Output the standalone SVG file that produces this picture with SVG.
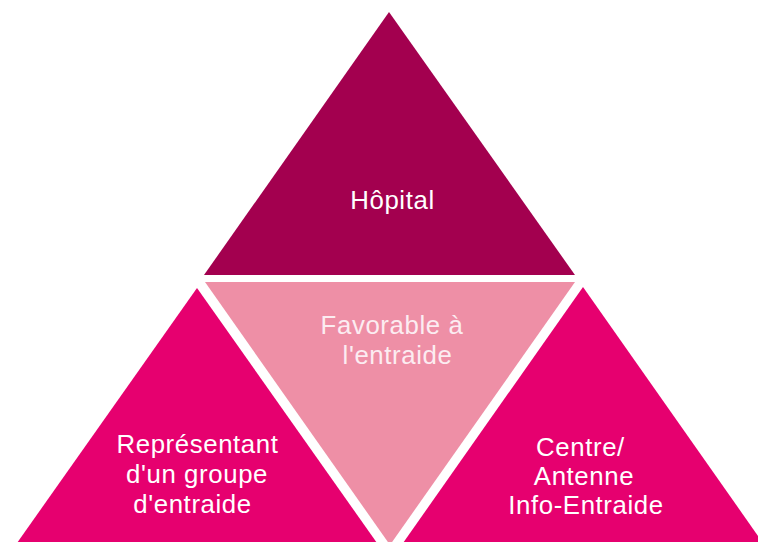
<svg xmlns="http://www.w3.org/2000/svg" width="758" height="542" viewBox="0 0 758 542">
<style>
.t{font-family:"Liberation Sans",Arial,sans-serif;font-size:25.8px;letter-spacing:0.6px;fill:#ffffff;text-anchor:middle}
.mid{fill:#fcecf1}
</style>
<rect width="758" height="542" fill="#ffffff"/>
<g id="hopital">
<polygon points="389,12 575,275 204,275" fill="#a3004f"/>
<text class="t" x="392.5" y="209">Hôpital</text>
</g>
<g id="favorable">
<polygon points="205,282 575,282 390,545" fill="#ee8fa6"/>
<text class="t mid" x="392" y="334">Favorable à</text>
<text class="t mid" x="397.5" y="364">l'entraide</text>
</g>
<g id="representant">
<polygon points="197,288 377,543 17,543" fill="#e6006f"/>
<text class="t" x="197.5" y="453">Représentant</text>
<text class="t" x="197" y="483">d'un groupe</text>
<text class="t" x="192.5" y="513">d'entraide</text>
</g>
<g id="centre">
<polygon points="583,287 763,543 403,543" fill="#e6006f"/>
<text class="t" x="580.5" y="456">Centre/</text>
<text class="t" x="584" y="485">Antenne</text>
<text class="t" x="586" y="514">Info-Entraide</text>
</g>
<g id="connectors"/>
</svg>
